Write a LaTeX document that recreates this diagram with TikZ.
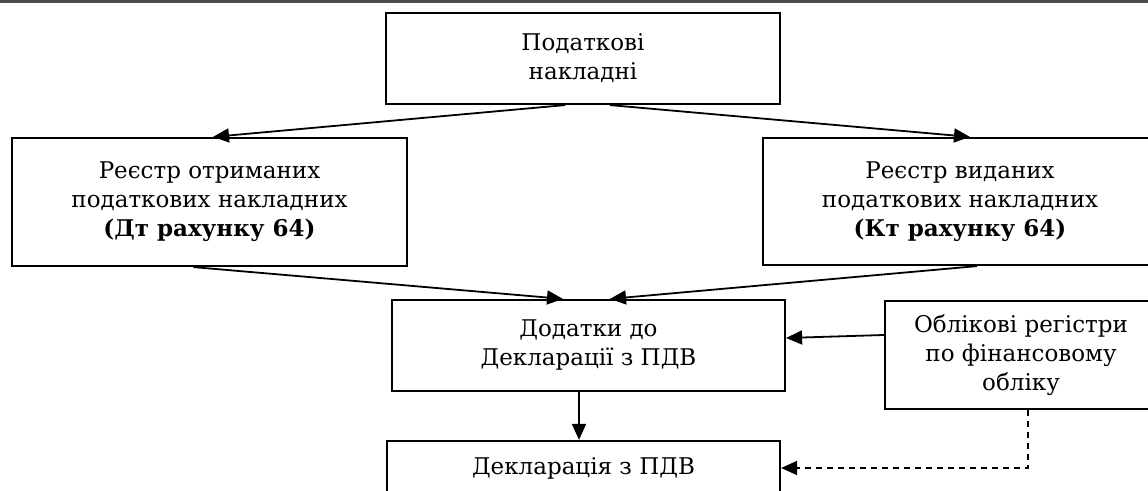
\documentclass[tikz,border=0pt]{standalone}
\usepackage{fontspec}
\setmainfont{DejaVu Serif}
\usetikzlibrary{arrows.meta}
\begin{document}
\begin{tikzpicture}[x=0.5pt, y=-0.5pt,
    box/.style={draw, line width=1.1pt, align=center, inner sep=0pt,
        font=\fontsize{11.5}{14.5}\selectfont},
    arr/.style={line width=0.9pt, -{Triangle[length=8pt, width=7pt]}}]
                \useasboundingbox (0,0) rectangle (1148,491);
                \draw[line width=1.5pt, color=black!70] (0,2) -- (1148,2);
                \node[box, minimum width=197pt, minimum height=45.5pt] (nakl) at (583,58.5) {Податкові\\накладні};
                \node[box, minimum width=197.5pt, minimum height=64pt] (otrym) at (209.5,202) {Реєстр отриманих\\податкових накладних\\\textbf{(Дт рахунку 64)}};
                \node[box, minimum width=197pt, minimum height=63.5pt] (vydan) at (960,201.5) {Реєстр виданих\\податкових накладних\\\textbf{(Кт рахунку 64)}};
                \node[box, minimum width=196.5pt, minimum height=45.5pt] (dodat) at (588.5,345.5) {Додатки до\\Декларації з ПДВ};
                \node[box, minimum width=136pt, minimum height=54pt] (oblik) at (1021,355) {Облікові регістри\\по фінансовому\\обліку};
                \node[box, minimum width=196.5pt, minimum height=27pt] (deklar) at (583.5,468) {Декларація з ПДВ};
                \draw[arr] ([xshift=-9pt]nakl.south) -- ([xshift=1.75pt]otrym.north);
                \draw[arr] ([xshift=13.5pt]nakl.south) -- ([xshift=5pt]vydan.north);
                \draw[arr] ([xshift=-8pt]otrym.south) -- ([xshift=-12.75pt]dodat.north);
                \draw[arr] ([xshift=8.5pt]vydan.south) -- ([xshift=10.75pt]dodat.north);
                \draw[arr] ([yshift=10pt]oblik.west) -- ([yshift=3.75pt]dodat.east);
                \draw[arr] ([xshift=-4.75pt]dodat.south) -- ([xshift=-2.25pt]deklar.north);
                \draw[arr, dash pattern=on 3pt off 2.5pt] ([xshift=3.5pt]oblik.south) |- (deklar.east);
\end{tikzpicture}
\end{document}
